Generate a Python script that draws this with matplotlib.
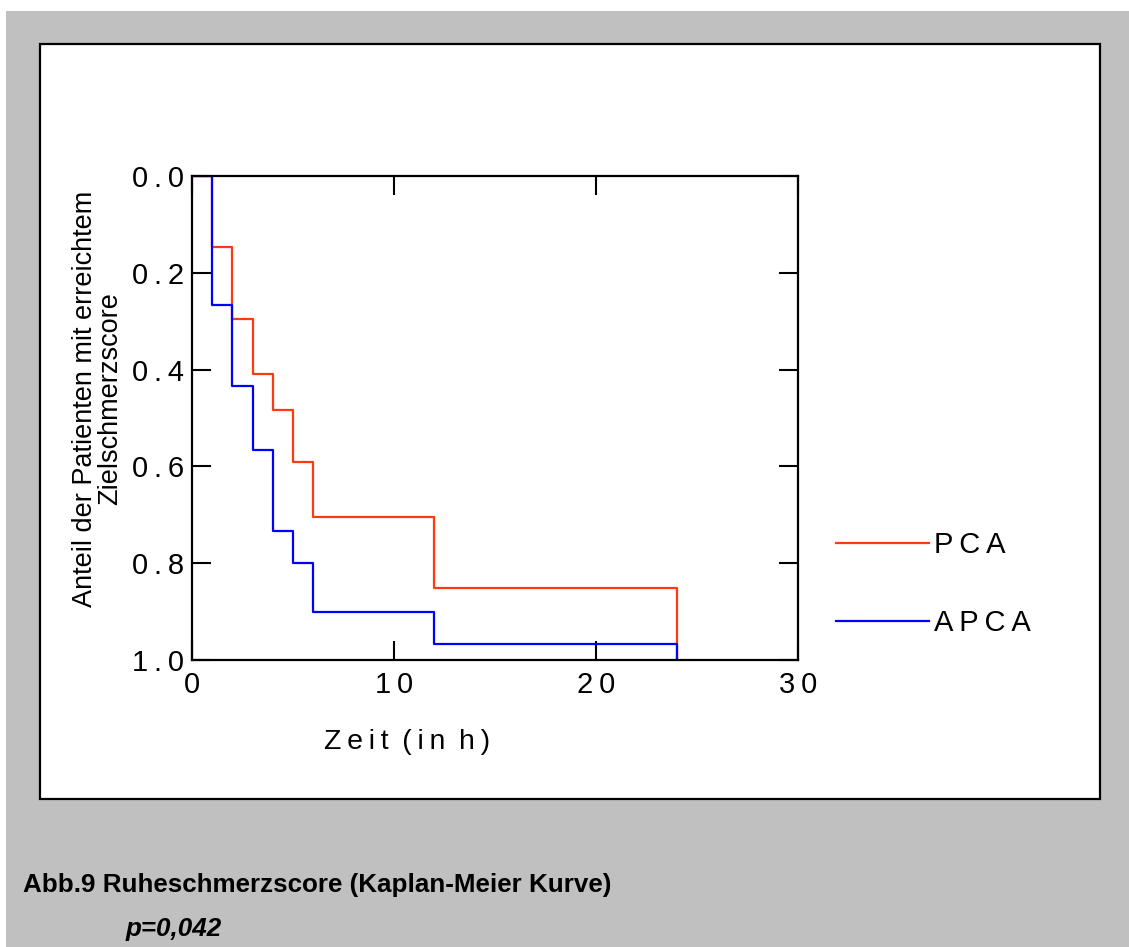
#!/usr/bin/env python3

import matplotlib
matplotlib.use("Agg")
import matplotlib.pyplot as plt
from matplotlib.patches import Rectangle

# Kaplan-Meier steps
zeitH   = [0, 1, 2, 3, 4, 5, 6, 12, 24]
anteilPCA  = [0.0, 0.147, 0.295, 0.410, 0.483, 0.590, 0.705, 0.852, 1.0]
anteilAPCA = [0.0, 0.267, 0.433, 0.567, 0.733, 0.800, 0.900, 0.967, 1.0]

xTicks = [0, 10, 20, 30]
yTicks = [0.0, 0.2, 0.4, 0.6, 0.8, 1.0]

seriesNames = ["PCA", "APCA"]

TS = "\u2009"  # thin space, the original uses wide letter spacing

def spaced(s):
    # letter spacing inside words, one thin space extra at word gaps
    return (TS + " ").join(TS.join(list(w)) for w in s.split(" "))

plt.rcParams["font.family"] = ["Liberation Sans", "DejaVu Sans"]

W, H = 1129, 947
fig = plt.figure(figsize=(W/100, H/100), dpi=100, facecolor="white")

# grey page and white frame around the graph
fig.patches.append(Rectangle((6/W, 0), 1 - 6/W, 1 - 11/H, transform=fig.transFigure,
                             facecolor="#c0c0c0", edgecolor="none", zorder=-3))
fig.patches.append(Rectangle((40/W, 1 - 799/H), 1060/W, 755/H, transform=fig.transFigure,
                             facecolor="white", edgecolor="black", linewidth=1.6, zorder=-2))

ax = fig.add_axes([192/W, 1 - 660/H, 606/W, 484/H])
ax.set_facecolor("white")

ax.step(zeitH, anteilPCA,  where="post", color="#ff3a10", linewidth=1.6, label=seriesNames[0])
ax.step(zeitH, anteilAPCA, where="post", color="#0000ff", linewidth=1.6, label=seriesNames[1])

ax.set_xlim(0, 30)
ax.set_ylim(1.0, 0.0)

ax.set_xticks(xTicks)
ax.set_xticklabels([spaced(str(t)) for t in xTicks])
ax.set_yticks(yTicks)
ax.set_yticklabels([spaced("%.1f" % t) for t in yTicks])

ax.tick_params(direction="in", length=13.5, width=1.5, top=True, right=True,
               labelsize=21, color="black")
ax.tick_params(axis="y", pad=6)
ax.tick_params(axis="x", pad=8)
for sp in ax.spines.values():
    sp.set_linewidth(1.6)
    sp.set_color("black")

# axis titles
fig.text(407/W, 1 - 742/H, spaced("Zeit (in h)"),
         fontsize=20.5, ha="center", va="center")
fig.text(98/W, 1 - 399/H, "Anteil der Patienten mit erreichtem\nZielschmerzscore",
         fontsize=19.5, rotation=90, ha="center", va="center", multialignment="center",
         linespacing=0.95)

leg = fig.legend(loc="center left", bbox_to_anchor=(836/W, 1 - 584/H),
                 frameon=False, fontsize=21, handlelength=3.2, handletextpad=0.15,
                 labelspacing=1.72, borderpad=0, borderaxespad=0)
for t in leg.get_texts():
    t.set_text(spaced(t.get_text()))

# caption below the frame
fig.text(23/W, 1 - 892/H, "Abb.9 Ruheschmerzscore (Kaplan-Meier Kurve)",
         fontsize=18.7, fontweight="bold", ha="left", va="baseline")
fig.text(126/W, 1 - 936/H, "p=0,042",
         fontsize=18.7, fontweight="bold", fontstyle="italic", ha="left", va="baseline")

fig.savefig("out.png", dpi=100, facecolor=fig.get_facecolor())
